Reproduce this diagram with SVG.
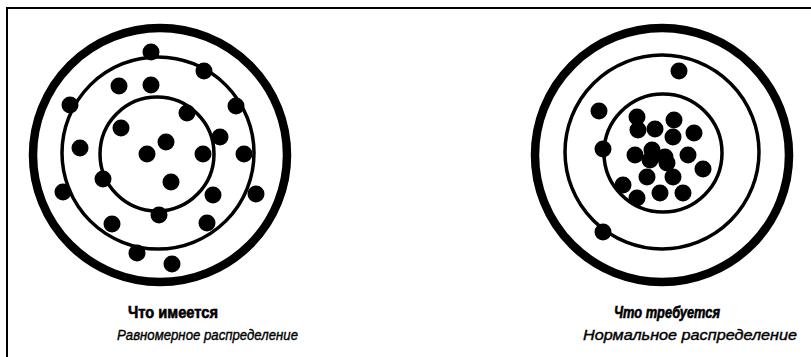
<svg xmlns="http://www.w3.org/2000/svg" width="811" height="357" viewBox="0 0 811 357">
<style>
.bg{fill:#fff}
.frame{stroke:#000;stroke-width:2;fill:none}
.outer{fill:none;stroke:#000;stroke-width:8.5}
.ring{fill:none;stroke:#000;stroke-width:3.5}
.dot{fill:#000}
.t1{font-family:"Liberation Sans",Arial,sans-serif;font-weight:bold;font-size:16px;fill:#000;stroke:#000;stroke-width:0.6}
.t2{font-family:"Liberation Sans",Arial,sans-serif;font-style:italic;font-size:15.5px;fill:#000;stroke:#000;stroke-width:0.4}
.t1i{font-style:italic}
</style>
<rect class="bg" x="0" y="0" width="811" height="357"/>
<g id="frame">
<path class="frame" d="M7,357 V8 H811"/>
</g>
<g id="target-left">
<circle class="outer" cx="160" cy="155" r="127"/>
<circle class="ring" cx="158" cy="153" r="96"/>
<circle class="ring" cx="157" cy="154" r="57"/>
<g class="dot">
<circle cx="151" cy="52" r="8.5"/>
<circle cx="204" cy="71" r="8.5"/>
<circle cx="119" cy="86" r="8.5"/>
<circle cx="151" cy="85" r="8.5"/>
<circle cx="70" cy="105" r="8.5"/>
<circle cx="236" cy="106" r="8.5"/>
<circle cx="187" cy="113" r="8.5"/>
<circle cx="121" cy="128" r="8.5"/>
<circle cx="166" cy="142" r="8.5"/>
<circle cx="220" cy="137" r="8.5"/>
<circle cx="80" cy="148" r="8.5"/>
<circle cx="147" cy="154" r="8.5"/>
<circle cx="203" cy="154" r="8.5"/>
<circle cx="244" cy="154" r="8.5"/>
<circle cx="103" cy="179" r="8.5"/>
<circle cx="171" cy="182" r="8.5"/>
<circle cx="63" cy="192" r="8.5"/>
<circle cx="213" cy="195" r="8.5"/>
<circle cx="256" cy="194" r="8.5"/>
<circle cx="159" cy="215" r="8.5"/>
<circle cx="112" cy="224" r="8.5"/>
<circle cx="207" cy="223" r="8.5"/>
<circle cx="137" cy="253" r="8.5"/>
<circle cx="172" cy="264" r="8.5"/>
</g>
</g>
<g id="target-right">
<circle class="outer" cx="662" cy="155" r="127"/>
<circle class="ring" cx="662" cy="152" r="97"/>
<circle class="ring" cx="663" cy="153" r="59"/>
<g class="dot">
<circle cx="679" cy="71" r="8.5"/>
<circle cx="599" cy="111" r="8.5"/>
<circle cx="637" cy="117" r="8.5"/>
<circle cx="674" cy="120" r="8.5"/>
<circle cx="655" cy="129" r="8.5"/>
<circle cx="638" cy="130" r="8.5"/>
<circle cx="694" cy="133" r="8.5"/>
<circle cx="673" cy="137" r="8.5"/>
<circle cx="603" cy="149" r="8.5"/>
<circle cx="635" cy="155" r="8.5"/>
<circle cx="652" cy="150" r="8.5"/>
<circle cx="665" cy="157" r="8.5"/>
<circle cx="688" cy="155" r="8.5"/>
<circle cx="650" cy="160" r="8.5"/>
<circle cx="667" cy="163" r="8.5"/>
<circle cx="703" cy="169" r="8.5"/>
<circle cx="647" cy="177" r="8.5"/>
<circle cx="673" cy="177" r="8.5"/>
<circle cx="623" cy="185" r="8.5"/>
<circle cx="660" cy="193" r="8.5"/>
<circle cx="637" cy="198" r="8.5"/>
<circle cx="683" cy="193" r="8.5"/>
<circle cx="603" cy="232" r="8.5"/>
</g>
</g>
<g id="caption-left">
<text class="t1" x="128" y="318" textLength="90" lengthAdjust="spacingAndGlyphs">Что имеется</text>
<text class="t2" x="117" y="340" textLength="181" lengthAdjust="spacingAndGlyphs">Равномерное распределение</text>
</g>
<g id="caption-right">
<text class="t1 t1i" x="614" y="318" textLength="106" lengthAdjust="spacingAndGlyphs">Что требуется</text>
<text class="t2" x="583" y="340" textLength="214" lengthAdjust="spacingAndGlyphs">Нормальное распределение</text>
</g>
</svg>
